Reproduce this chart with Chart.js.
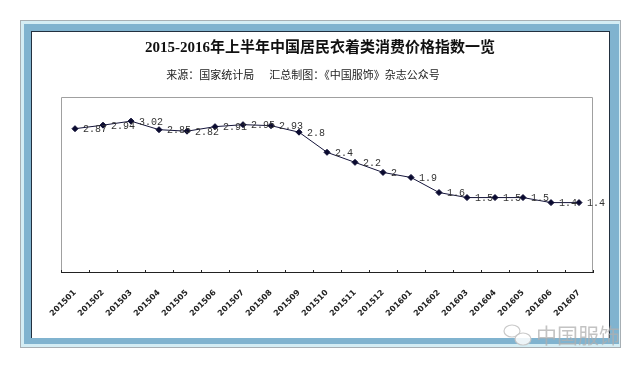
<!DOCTYPE html>
<html><head><meta charset="utf-8">
<script src="https://cdn.jsdelivr.net/npm/chart.js@4.4.1/dist/chart.umd.min.js"></script>
<style>
html,body{margin:0;padding:0;background:#fff;width:640px;height:368px;overflow:hidden;}
.f{position:absolute;box-sizing:border-box;}
#c{position:absolute;left:0;top:0;}
</style></head><body>
<div class="f" style="left:20px;top:20px;width:601px;height:328px;border:1px solid #a7afb4;background:#d4edf4;"></div>
<div class="f" style="left:24px;top:24px;width:595px;height:320px;background:#80b3cf;"></div>
<div class="f" style="left:31px;top:31px;width:579px;height:307px;border:1px solid #22303f;border-bottom:none;background:#fff;"></div>
<canvas id="c" width="640" height="368"></canvas>
<script>
const categories = ["201501","201502","201503","201504","201505","201506","201507","201508","201509","201510","201511","201512","201601","201602","201603","201604","201605","201606","201607"];
const values = [2.87,2.94,3.02,2.85,2.82,2.91,2.95,2.93,2.8,2.4,2.2,2,1.9,1.6,1.5,1.5,1.5,1.4,1.4];
const valueLabels = ["2.87","2.94","3.02","2.85","2.82","2.91","2.95","2.93","2.8","2.4","2.2","2","1.9","1.6","1.5","1.5","1.5","1.4","1.4"];
const titleText = "2015-2016年上半年中国居民衣着类消费价格指数一览";
const subtitleText = "来源：国家统计局      汇总制图：《中国服饰》杂志公众号";
const watermarkText = "中国服饰";

const framePlugin = {
  id:'frame',
  beforeDatasetsDraw(chart){
    const {ctx, chartArea:a} = chart;
    ctx.save();
    // titles
    ctx.textAlign = 'center'; ctx.textBaseline = 'middle';
    ctx.fillStyle = '#111';
    ctx.font = 'bold 15px "Liberation Serif", "Noto Sans CJK SC"';
    ctx.fillText(titleText, 320, 48);
    ctx.fillStyle = '#222';
    ctx.font = '11px "Noto Sans CJK SC"';
    ctx.fillText(subtitleText, 303, 75);
    // plot border
    ctx.strokeStyle = '#a0a0a0'; ctx.lineWidth = 1;
    ctx.beginPath();
    ctx.moveTo(a.left+0.5, a.bottom); ctx.lineTo(a.left+0.5, a.top+0.5);
    ctx.lineTo(a.right-0.5, a.top+0.5); ctx.lineTo(a.right-0.5, a.bottom);
    ctx.stroke();
    // x axis line and inside tick marks at category boundaries
    ctx.strokeStyle = '#222';
    ctx.beginPath();
    ctx.moveTo(a.left, a.bottom-0.5); ctx.lineTo(a.right, a.bottom-0.5);
    const xs = chart.scales.x;
    const step = xs.getPixelForValue(1)-xs.getPixelForValue(0);
    for (let i=0;i<=categories.length;i++){
      let x = (i<categories.length) ? xs.getPixelForValue(i) - step/2 : xs.getPixelForValue(i-1) + step/2;
      x = Math.round(x)+0.5;
      ctx.moveTo(x, a.bottom); ctx.lineTo(x, a.bottom-3);
    }
    ctx.stroke();
    ctx.restore();
  },
  afterDatasetsDraw(chart){
    const {ctx} = chart;
    const meta = chart.getDatasetMeta(0);
    ctx.save();
    ctx.font = '10px "Liberation Mono", monospace';
    ctx.fillStyle = '#333';
    ctx.textAlign = 'left'; ctx.textBaseline = 'middle';
    meta.data.forEach((p,i)=>{ ctx.fillText(valueLabels[i], p.x+8, p.y+1); });
    ctx.restore();
  },
  afterDraw(chart){
    const {ctx} = chart;
    ctx.save();
    ctx.font = '21px "Noto Sans CJK SC"';
    ctx.fillStyle = 'rgba(175,175,175,0.75)';
    ctx.textAlign = 'left'; ctx.textBaseline = 'middle';
    ctx.fillText(watermarkText, 536, 335);
    ctx.strokeStyle = 'rgba(195,195,195,0.9)'; ctx.lineWidth = 1.2;
    ctx.fillStyle = 'rgba(255,255,255,0.85)';
    ctx.beginPath(); ctx.ellipse(512,331,8,6,0,0,Math.PI*2); ctx.fill(); ctx.stroke();
    ctx.beginPath(); ctx.ellipse(523,339,8,6,0,0,Math.PI*2); ctx.fill(); ctx.stroke();
    ctx.restore();
  }
};

new Chart(document.getElementById('c'), {
  type:'line',
  data:{ labels:categories, datasets:[{
    data:values, borderColor:'#14143a', borderWidth:1, tension:0,
    pointStyle:'rectRot', pointRadius:3, pointBackgroundColor:'#0a0a30', pointBorderColor:'#0a0a30', pointBorderWidth:1
  }]},
  options:{
    responsive:false, animation:false,
    layout:{padding:{left:61, right:47, top:97, bottom:35}},
    plugins:{ legend:{display:false}, tooltip:{enabled:false}, title:{display:false} },
    scales:{
      x:{ type:'category', offset:true,
        grid:{display:false, drawTicks:false},
        border:{display:false},
        ticks:{minRotation:45, maxRotation:45, autoSkip:false, padding:15, color:'#222',
          font:{size:8, weight:'bold', family:'"DejaVu Sans"'}},
        afterFit(s){ s.height = 60; }
      },
      y:{ display:false, min:0, max:3.5 }
    }
  },
  plugins:[framePlugin]
});
</script>
</body></html>
